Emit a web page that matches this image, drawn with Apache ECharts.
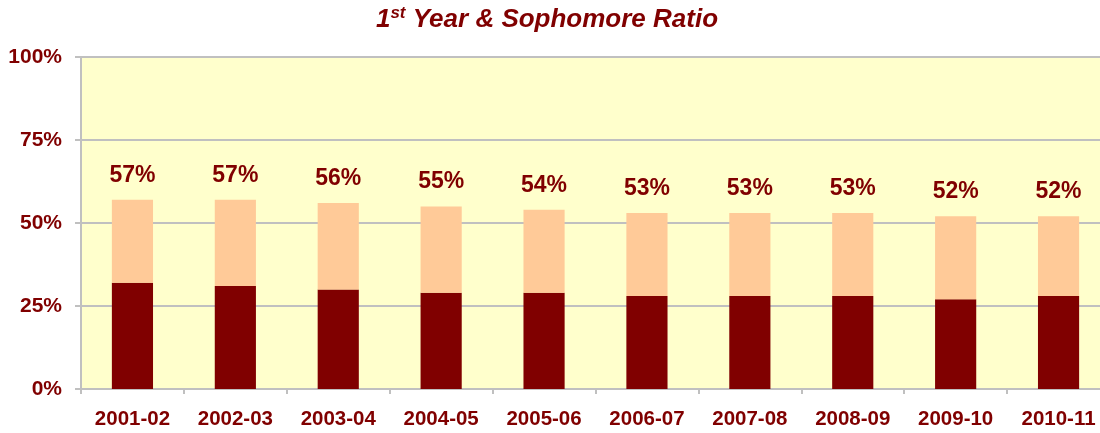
<!DOCTYPE html>
<html>
<head>
<meta charset="utf-8">
<script src="https://cdn.jsdelivr.net/npm/echarts@6/dist/echarts.min.js"></script>
<style>
  html, body { margin: 0; padding: 0; background: #fff; overflow: hidden; }
  /* plot area runs past the right edge in the original, so the canvas is a bit wider than the window */
  #chart { width: 1110px; height: 433px; }
</style>
</head>
<body>
<div id="chart"></div>
<script>
var years = ['2001-02', '2002-03', '2003-04', '2004-05', '2005-06', '2006-07', '2007-08', '2008-09', '2009-10', '2010-11']
var firstYear = [32, 31, 30, 29, 29, 28, 28, 28, 27, 28]
var sophomore = [25, 26, 26, 26, 25, 25, 25, 25, 25, 24]
var totals = [57, 57, 56, 55, 54, 53, 53, 53, 52, 52]
var yTicks = [0, 25, 50, 75, 100]

var textColor = '#800000'
var chart = echarts.init(document.getElementById('chart'))

chart.setOption({
  animation: false,
  textStyle: {
    fontFamily: 'Liberation Sans, Arial, sans-serif'
  },
  title: {
    text: '{num|1}{sup|st}{txt| Year & Sophomore Ratio}',
    left: 542,
    textAlign: 'center',
    top: 0,
    textStyle: {
      rich: {
        num: { fontSize: 26, fontWeight: 'bold', fontStyle: 'italic', color: textColor, lineHeight: 30 },
        sup: { fontSize: 17, fontWeight: 'bold', fontStyle: 'italic', color: textColor, verticalAlign: 'top', lineHeight: 30, padding: [0, 0, 10, 0] },
        txt: { fontSize: 26, fontWeight: 'bold', fontStyle: 'italic', color: textColor, lineHeight: 30 }
      }
    }
  },
  grid: {
    left: 81,
    right: 0,
    top: 57,
    bottom: 44,
    show: true,
    backgroundColor: '#FFFFCC',
    borderWidth: 0
  },
  xAxis: {
    type: 'category',
    data: years,
    axisLine: { lineStyle: { color: '#C0C0C0', width: 2 } },
    axisTick: { show: true, length: 5, lineStyle: { color: '#C0C0C0', width: 2 } },
    axisLabel: {
      margin: 20,
      color: textColor,
      fontSize: 20.5,
      fontWeight: 'bold'
    }
  },
  yAxis: {
    type: 'value',
    min: yTicks[0],
    max: yTicks[yTicks.length - 1],
    interval: 25,
    axisLine: { show: true, lineStyle: { color: '#C0C0C0', width: 2 } },
    axisTick: { show: true, inside: false, length: 6, lineStyle: { color: '#C0C0C0', width: 2 } },
    axisLabel: {
      margin: 19,
      color: textColor,
      fontSize: 21,
      fontWeight: 'bold',
      formatter: '{value}%'
    },
    splitLine: { lineStyle: { color: '#C0C0C0', width: 2 } }
  },
  series: [{
    name: '1st Year',
    type: 'bar',
    stack: 'total',
    barWidth: '40%',
    itemStyle: { color: '#800000' },
    data: firstYear
  }, {
    name: 'Sophomore',
    type: 'bar',
    stack: 'total',
    barWidth: '40%',
    itemStyle: { color: '#FFCA98' },
    label: {
      show: true,
      position: 'top',
      distance: 13,
      color: textColor,
      fontSize: 23,
      fontWeight: 'bold',
      formatter: function(p) {
        return totals[p.dataIndex] + '%'
      }
    },
    data: sophomore
  }]
})
</script>
</body>
</html>
